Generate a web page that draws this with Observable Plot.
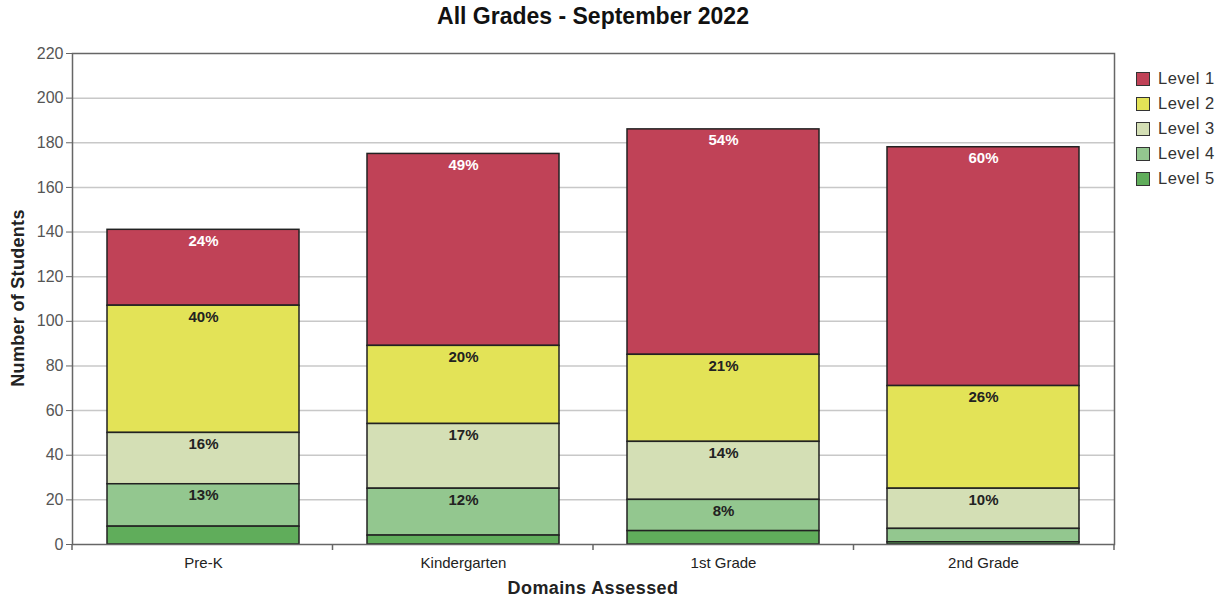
<!DOCTYPE html>
<html>
<head>
<meta charset="utf-8">
<script src="https://cdn.jsdelivr.net/npm/d3@7"></script>
<script src="https://cdn.jsdelivr.net/npm/@observablehq/plot@0.6"></script>
<style>
  body { margin: 0; background: #fff; font-family: "Liberation Sans", Arial, sans-serif; }
  #wrap { position: relative; width: 1229px; height: 601px; }
  #title { position: absolute; left: 72px; width: 1042px; top: 3px; text-align: center; font-weight: bold; font-size: 23px; color: #111; }
  #xlabel { position: absolute; left: 72px; width: 1042px; top: 578px; text-align: center; font-weight: bold; font-size: 18px; letter-spacing: 0.4px; color: #222; }
  #ylabel { position: absolute; left: 18px; top: 298px; transform: translate(-50%, -50%) rotate(-90deg); white-space: nowrap; font-weight: bold; font-size: 18px; letter-spacing: 0.3px; color: #222; }
  #legend { position: absolute; left: 1136px; top: 66px; font-size: 16.5px; letter-spacing: 0.5px; color: #333; }
  .item { display: flex; align-items: center; height: 25px; }
  .sw { width: 12px; height: 12px; border: 1.5px solid #333; margin-right: 8px; box-sizing: content-box; }
  svg { position: absolute; left: 0; top: 0; }
</style>
</head>
<body>
<div id="wrap">
  <div id="chart"></div>
  <div id="title"></div>
  <div id="xlabel"></div>
  <div id="ylabel"></div>
  <div id="legend"></div>
</div>
<script>
const titleText = "All Grades - September 2022";
const xTitle = "Domains Assessed";
const yTitle = "Number of Students";
const categories = ["Pre-K", "Kindergarten", "1st Grade", "2nd Grade"];
const levels = ["Level 1", "Level 2", "Level 3", "Level 4", "Level 5"];
const colors = ["#c04257", "#e3e357", "#d4dfb5", "#93c78f", "#60ad5b"];
const level1 = [34, 86, 101, 107];
const level2 = [57, 35, 39, 46];
const level3 = [23, 29, 26, 18];
const level4 = [19, 21, 14, 6];
const level5 = [8, 4, 6, 1];
const pct1 = ["24%", "49%", "54%", "60%"];
const pct2 = ["40%", "20%", "21%", "26%"];
const pct3 = ["16%", "17%", "14%", "10%"];
const pct4 = ["13%", "12%", "8%", ""];
const pct5 = ["", "", "", ""];
const yTicks = [0, 20, 40, 60, 80, 100, 120, 140, 160, 180, 200, 220];

const series = [level1, level2, level3, level4, level5];
const pcts = [pct1, pct2, pct3, pct4, pct5];
const data = [];
levels.forEach((lv, li) => categories.forEach((c, ci) => data.push({
  cat: c, level: lv, value: series[li][ci], pct: pcts[li][ci]
})));
const order = levels.slice().reverse();

document.getElementById("title").textContent = titleText;
document.getElementById("xlabel").textContent = xTitle;
document.getElementById("ylabel").textContent = yTitle;
const leg = document.getElementById("legend");
levels.forEach((lv, i) => {
  const d = document.createElement("div"); d.className = "item";
  const s = document.createElement("div"); s.className = "sw"; s.style.background = colors[i];
  const t = document.createElement("span"); t.textContent = lv;
  d.appendChild(s); d.appendChild(t); leg.appendChild(d);
});

// tick marks at the category band boundaries, derived from the plot frame
const bandTicks = Plot.ruleX(categories, {
  x: d => d,
  render: (I, scales, values, dims) => {
    const left = dims.marginLeft, right = dims.width - dims.marginRight;
    const n = categories.length;
    const step = (right - left) / n;
    const y0 = dims.height - dims.marginBottom;
    const g = d3.create("svg:g").attr("stroke", "#666").attr("stroke-width", 1.5);
    for (let i = 0; i <= n; i++) {
      const e = left + i * step;
      g.append("line").attr("x1", e).attr("x2", e).attr("y1", y0).attr("y2", y0 + 6);
    }
    return g.node();
  }
});

const chart = Plot.plot({
  width: 1229,
  height: 601,
  marginLeft: 72,
  marginRight: 115,
  marginTop: 53,
  marginBottom: 57,
  style: { fontFamily: "'Liberation Sans', Arial, sans-serif", background: "transparent" },
  x: { domain: categories, paddingInner: 0.26, paddingOuter: 0.13, label: null },
  y: { domain: [0, 220], label: null },
  color: { domain: levels, range: colors },
  marks: [
    Plot.gridY(yTicks.filter(t => t > 0 && t < 220), { stroke: "#c8c8c8", strokeOpacity: 1, strokeWidth: 1.5 }),
    Plot.barY(data, Plot.stackY({
      x: "cat", y: "value", z: "level", order, fill: "level",
      stroke: "#222", strokeWidth: 1.5
    })),
    Plot.text(data, Plot.stackY2({
      x: "cat", y: "value", z: "level", order, text: "pct",
      fill: d => d.level === "Level 1" ? "#ffffff" : "#222",
      fontWeight: "bold", fontSize: 15, dy: 11
    })),
    Plot.frame({ stroke: "#666", strokeWidth: 1.5 }),
    Plot.axisY({ ticks: yTicks, tickSize: 6, tickPadding: 3, fontSize: 16, color: "#555", stroke: "#666", label: null }),
    Plot.axisX({ tickSize: 0, tickPadding: 13, fontSize: 15, color: "#222", label: null, style: { letterSpacing: "0.7px" } }),
    bandTicks
  ]
});
document.getElementById("chart").appendChild(chart);
</script>
</body>
</html>
